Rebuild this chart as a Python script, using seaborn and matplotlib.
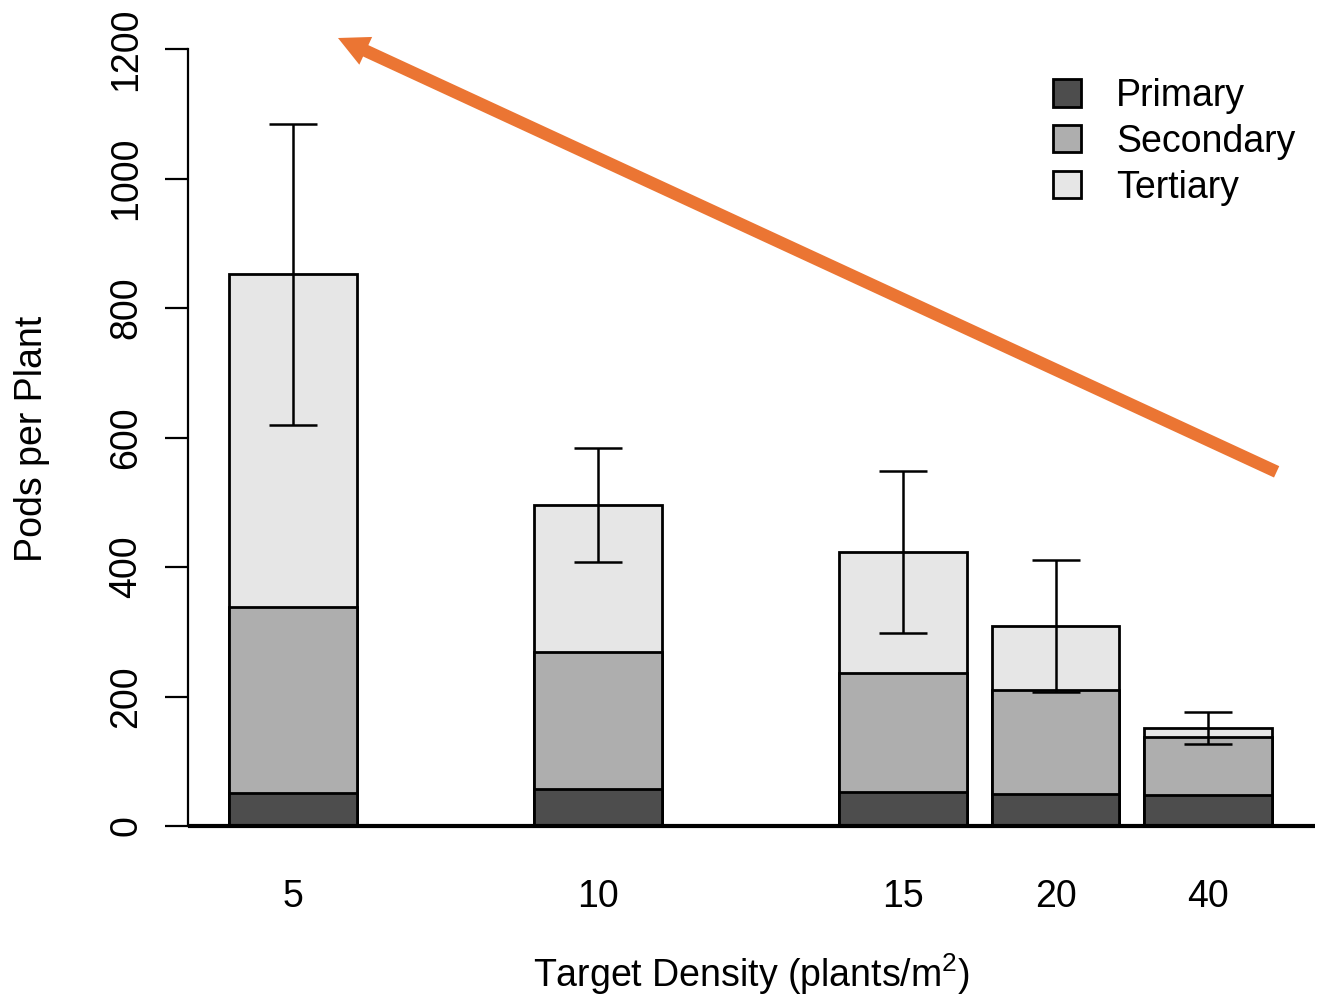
import numpy as np
import pandas as pd
import matplotlib
matplotlib.use("Agg")
import matplotlib.pyplot as plt
import seaborn as sns
from matplotlib.patches import Patch

# ---- data ----
slots = ["5", "gap1", "10", "gap2", "15", "20", "40"]
slot_labels = ["5", "", "10", "", "15", "20", "40"]
primary = [51, 0, 57, 0, 52, 49, 48]
secondary = [287, 0, 212, 0, 184, 161, 89]
tertiary = [514, 0, 227, 0, 187, 99, 14]
se_slots = ["5", "10", "15", "20", "40"]
se_values = [232, 88, 125, 102, 25]
series_names = ["Primary", "Secondary", "Tertiary"]
series_colors = ["#4D4D4D", "#AEAEAE", "#E6E6E6"]
arrow_tip = (0.295, 1217)
arrow_tail = (6.45, 547)

df = pd.DataFrame({"slot": slots, "Primary": primary,
                   "Secondary": secondary, "Tertiary": tertiary})
df["cum1"] = df["Primary"]
df["cum2"] = df["Primary"] + df["Secondary"]
df["cum3"] = df["cum2"] + df["Tertiary"]

sns.set_theme(style="white")
plt.rcParams["font.family"] = ["Liberation Sans", "DejaVu Sans"]
plt.rcParams["mathtext.fontset"] = "custom"
plt.rcParams["mathtext.rm"] = "Liberation Sans"
plt.rcParams["mathtext.default"] = "regular"
plt.rcParams["text.color"] = "black"

W, H = 1332, 1002
fig = plt.figure(figsize=(W / 100, H / 100), dpi=100)
ax_left, ax_right, ax_top, ax_bot = 188, 1315, 20, 858
ax = fig.add_axes([ax_left / W, 1 - ax_bot / H, (ax_right - ax_left) / W, (ax_bot - ax_top) / H])

for col, c in zip(["cum3", "cum2", "cum1"], series_colors[::-1]):
    sns.barplot(data=df, x="slot", y=col, order=slots, color=c, saturation=1,
                edgecolor="black", linewidth=2.0, width=0.833, errorbar=None, ax=ax)

# error bars
pos = [slots.index(s) for s in se_slots]
tot = [df.loc[df.slot == s, "cum3"].values[0] for s in se_slots]
ax.errorbar(pos, tot, yerr=se_values, fmt="none", ecolor="black",
            elinewidth=1.8, capsize=17, capthick=1.8, zorder=5)

# axes styling
ax.set_xlim(-0.6885, 6.7016)
ax.set_ylim(-49.4, 1244.8)
for s in ["top", "right", "bottom"]:
    ax.spines[s].set_visible(False)
ax.spines["left"].set_bounds(0, 1200)
ax.spines["left"].set_linewidth(1.6)
ax.spines["left"].set_color("black")
ax.axhline(0, color="black", lw=3.0, zorder=6)

ax.set_yticks(np.arange(0, 1201, 200))
ax.set_yticklabels([str(v) for v in range(0, 1201, 200)], rotation=90, va="center")
ax.tick_params(axis="y", direction="out", length=16.5, width=1.6, color="black",
               labelsize=27, pad=15, left=True)
ax.set_xticks(range(len(slots)))
ax.set_xticklabels(slot_labels)
ax.tick_params(axis="x", length=0, labelsize=27, pad=15)
for t in ax.get_xticklabels() + ax.get_yticklabels():
    t.set_color("black")

ax.set_ylabel("Pods per Plant", fontsize=27, color="black")
ax.yaxis.set_label_coords(-0.1225, 0.5)
ax.set_xlabel("Target Density (plants/m$^{2}$)", fontsize=27, color="black")
ax.xaxis.label.set_va("baseline")
ax.xaxis.set_label_coords(0.5, (ax_bot - 987) / (ax_bot - ax_top))

# orange arrow
ax.annotate("", xy=arrow_tip, xytext=arrow_tail,
            arrowprops=dict(width=9, headwidth=22, headlength=22,
                            color="#EB7533", lw=0, shrink=0), zorder=7)

# legend
handles = [Patch(facecolor=c, edgecolor="black", linewidth=2.0) for c in series_colors]
fig.legend(handles, series_names, loc="upper left",
           bbox_to_anchor=(1053 / W, 1 - 78 / H), frameon=False,
           fontsize=27, handlelength=0.75, handleheight=0.75, labelcolor="black",
           handletextpad=0.93, labelspacing=0.26, borderpad=0, borderaxespad=0)

fig.savefig("out.png", dpi=100)
